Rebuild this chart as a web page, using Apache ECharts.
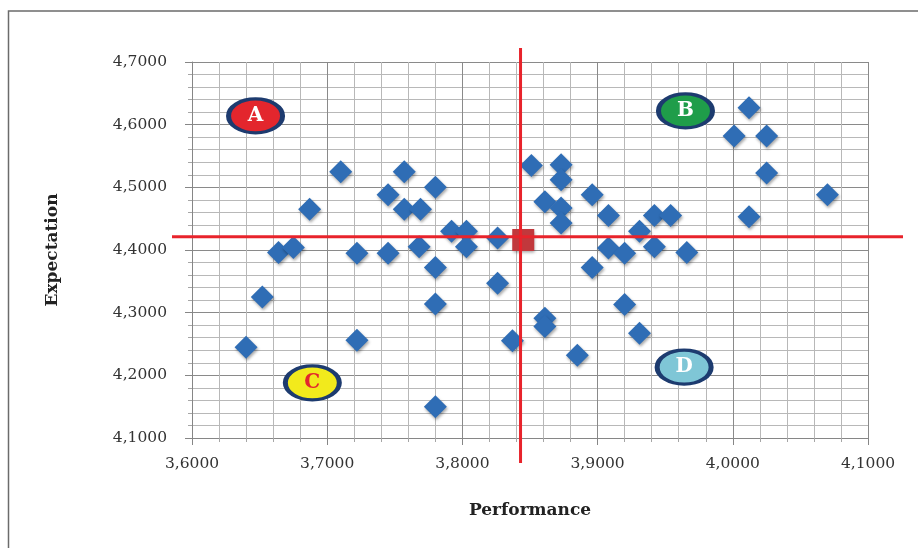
<!DOCTYPE html>
<html>
<head>
<meta charset="utf-8">
<style>
  html, body { margin: 0; padding: 0; background: #ffffff; }
  #chart { width: 918px; height: 548px; }
</style>
<script src="https://cdn.jsdelivr.net/npm/echarts@6/dist/echarts.min.js"></script>
</head>
<body>
<div id="chart"></div>
<script>
// ---- Data ----
const performance = [3.640, 3.652, 3.664, 3.675, 3.687, 3.710, 3.722, 3.722, 3.745, 3.745,
  3.757, 3.757, 3.769, 3.768, 3.780, 3.780, 3.780, 3.780, 3.792, 3.803,
  3.803, 3.826, 3.826, 3.837, 3.851, 3.861, 3.873, 3.873, 3.873, 3.873,
  3.861, 3.861, 3.885, 3.896, 3.896, 3.908, 3.908, 3.920, 3.920, 3.931,
  3.931, 3.942, 3.942, 3.954, 3.966, 4.001, 4.012, 4.025, 4.025, 4.012, 4.070];
const expectation = [4.245, 4.325, 4.396, 4.404, 4.465, 4.525, 4.395, 4.256, 4.488, 4.395,
  4.525, 4.465, 4.465, 4.405, 4.500, 4.372, 4.314, 4.150, 4.430, 4.430,
  4.405, 4.419, 4.347, 4.255, 4.535, 4.477, 4.536, 4.512, 4.467, 4.443,
  4.291, 4.278, 4.232, 4.488, 4.372, 4.455, 4.403, 4.395, 4.313, 4.430,
  4.267, 4.455, 4.405, 4.455, 4.396, 4.582, 4.627, 4.582, 4.523, 4.453, 4.488];

// mean point (red square) and reference lines
const meanPoint = [3.845, 4.416];
const refLines = [3.843, 4.421];

// quadrant labels
const quadrantNames = ['A', 'B', 'C', 'D'];
const quadrantX = [3.647, 3.965, 3.689, 3.964];
const quadrantY = [4.614, 4.622, 4.188, 4.213];
const quadrantFill = ['#e3262d', '#1f9d4a', '#f2ea1c', '#7fc6d6'];
const quadrantText = ['#ffffff', '#ffffff', '#e3262d', '#ffffff'];

// axes
const xMin = 3.6, xMax = 4.1, xStep = 0.1;
const yMin = 4.1, yMax = 4.7, yStep = 0.1;
const xTitle = 'Performance';
const yTitle = 'Expectation';

// ---- Chart ----
const chart = echarts.init(document.getElementById('chart'), null, { renderer: 'canvas' });
const fmt = v => v.toFixed(4).replace('.', ',');
const font = 'DejaVu Serif';

const axisCommon = {
  axisLine: { show: true, onZero: false, lineStyle: { color: '#868686', width: 1 } },
  axisTick: { show: true, inside: false, length: 7, lineStyle: { color: '#868686' } },
  minorTick: { show: true, splitNumber: 5, length: 4, lineStyle: { color: '#a6a6a6' } },
  splitLine: { show: true, lineStyle: { color: '#8a8a8a', width: 1 } },
  minorSplitLine: { show: true, lineStyle: { color: '#b8b8b8', width: 1 } },
  nameTextStyle: { fontFamily: font, fontWeight: 'bold', fontSize: 17, color: '#222' }
};

const scatterData = performance.map((x, i) => [x, expectation[i]]);

chart.setOption({
  animation: false,
  backgroundColor: '#ffffff',
  grid: { left: 192, right: 50, top: 62, bottom: 110, containLabel: false },
  graphic: [{
    type: 'rect', silent: true, z: -10,
    shape: { x: 8.5, y: 11, width: 930, height: 560 },
    style: { fill: 'none', stroke: '#6b6b6b', lineWidth: 1.5 }
  }],
  xAxis: Object.assign({}, axisCommon, {
    type: 'value', min: xMin, max: xMax, interval: xStep,
    name: xTitle, nameLocation: 'middle', nameGap: 64,
    axisLabel: { formatter: fmt, fontFamily: font, fontSize: 15.5, color: '#333', margin: 18 }
  }),
  yAxis: Object.assign({}, axisCommon, {
    type: 'value', min: yMin, max: yMax, interval: yStep,
    name: yTitle, nameLocation: 'middle', nameGap: 131, nameRotate: 90,
    axisLabel: { formatter: fmt, fontFamily: font, fontSize: 15.5, color: '#333', margin: 25 }
  }),
  series: [
    {
      type: 'scatter', name: 'points', z: 3,
      symbol: 'diamond', symbolSize: 23,
      emphasis: { disabled: true },
      itemStyle: { color: '#2f6db5', opacity: 1, shadowBlur: 3, shadowColor: 'rgba(0,0,0,0.35)', shadowOffsetX: 1, shadowOffsetY: 2 },
      data: scatterData
    },
    {
      type: 'scatter', name: 'mean', z: 4,
      symbol: 'rect', symbolSize: 22,
      emphasis: { disabled: true },
      itemStyle: { color: '#c1383c', opacity: 1, shadowBlur: 3, shadowColor: 'rgba(0,0,0,0.35)', shadowOffsetX: 1, shadowOffsetY: 2 },
      data: [meanPoint]
    },
    {
      type: 'custom', name: 'lines', z: 5, clip: false, silent: true,
      data: [refLines],
      renderItem: function (params, api) {
        const mx = api.value(0), my = api.value(1);
        const top = api.coord([mx, yMax]);
        const bot = api.coord([mx, yMin]);
        const lft = api.coord([xMin, my]);
        const rgt = api.coord([xMax, my]);
        const style = { stroke: '#e8232b', lineWidth: 3 };
        return {
          type: 'group',
          children: [
            { type: 'line', shape: { x1: top[0], y1: top[1] - 14, x2: bot[0], y2: bot[1] + 25 }, style: style },
            { type: 'line', shape: { x1: lft[0] - 20, y1: lft[1], x2: rgt[0] + 35, y2: rgt[1] }, style: style }
          ]
        };
      }
    },
    {
      type: 'scatter', name: 'quadrants', z: 6,
      symbol: 'circle', symbolSize: [54, 34],
      emphasis: { disabled: true },
      data: quadrantNames.map((n, i) => ({
        value: [quadrantX[i], quadrantY[i]],
        name: n,
        itemStyle: { color: quadrantFill[i], opacity: 1, borderColor: '#1d3b6f', borderWidth: 4 },
        label: { color: quadrantText[i] }
      })),
      label: {
        show: true, position: 'inside', formatter: '{b}',
        fontFamily: font, fontWeight: 'bold', fontSize: 20
      }
    }
  ]
});
</script>
</body>
</html>
